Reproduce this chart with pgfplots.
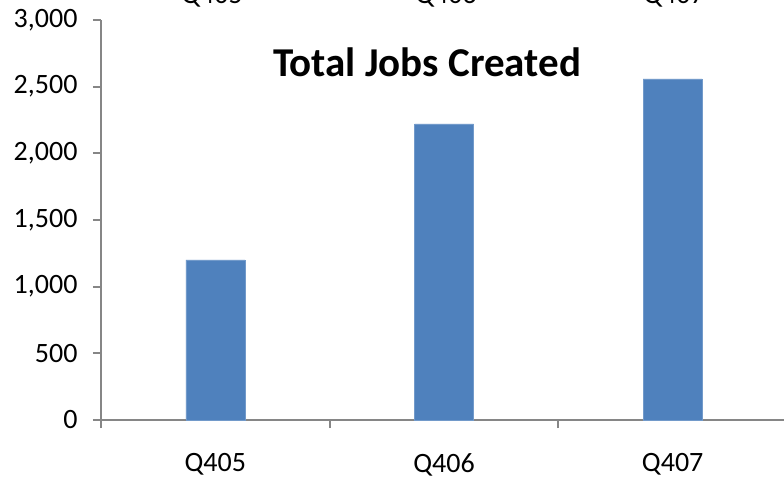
\documentclass[border=0pt]{standalone}
\usepackage{fontspec}
\setmainfont{Carlito}
\usepackage{pgfplots}
\pgfplotsset{compat=1.18}
\definecolor{barblue}{HTML}{4F81BD}
\definecolor{axgray}{HTML}{868686}
\begin{document}
\begin{tikzpicture}[x=1pt,y=1pt]
\useasboundingbox (0,0) rectangle (784,479);
\begin{axis}[
  at={(101pt,59pt)}, anchor=south west,
  scale only axis, width=686pt, height=400pt,
  xmin=-0.5, xmax=2.5, ymin=0, ymax=3000,
  axis x line=bottom, axis y line=left,
  axis line style={-, draw=axgray, line width=2pt},
  xtick={0,1,2}, xticklabels={Q405,Q406,Q407},
  minor xtick={-0.5,0.5,1.5,2.5},
  major x tick style={draw=none},
  minor x tick style={draw=axgray, line width=2pt},
  ytick={0,500,...,3000},
  y tick style={draw=axgray, line width=2pt},
  tick align=outside,
  major tick length=8pt, minor tick length=8pt,
  /pgf/number format/1000 sep={,},
  /pgf/number format/assume math mode=true,
  tick label style={font=\fontsize{28}{32}\selectfont, text=black},
  yticklabel style={xshift=-12pt},
  xticklabel style={yshift=-22pt},
  clip=false,
]
\addplot[ybar, bar width=59pt, fill=barblue, draw=barblue!80!white, line width=0.5pt] coordinates {(0,1200) (1,2220) (2,2558)};
\end{axis}
\node[anchor=base, font=\bfseries\fontsize{41}{46}\selectfont] at (427,402) {Total Jobs Created};
\foreach \xx/\lab in {212/Q405, 446/Q406, 674/Q407}
  \node[anchor=base, font=\fontsize{28}{32}\selectfont] at (\xx,475) {\lab};
\end{tikzpicture}
\end{document}
